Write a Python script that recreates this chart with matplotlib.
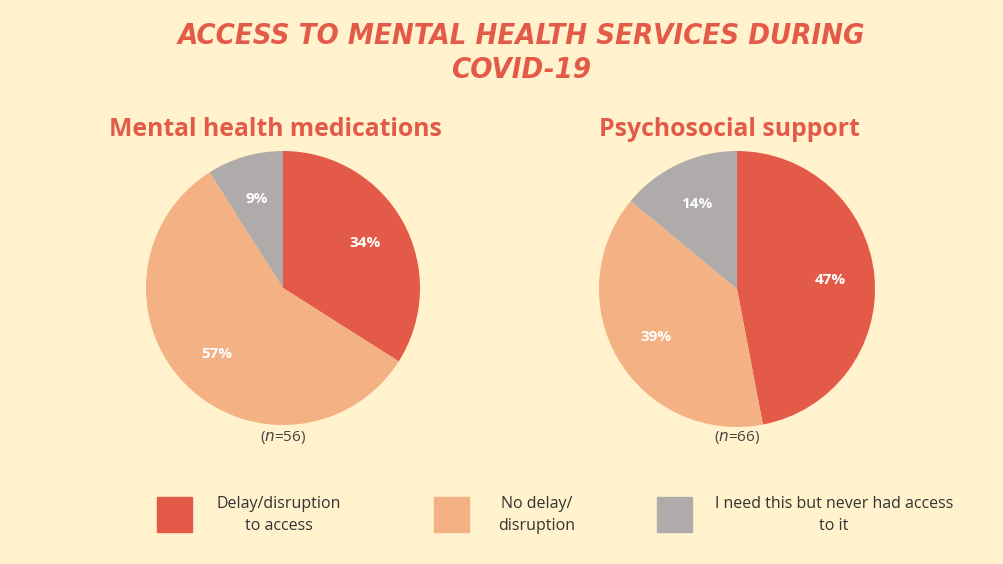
import matplotlib
matplotlib.use("Agg")
import matplotlib.pyplot as plt
from matplotlib.patches import Rectangle

# data
categories = ["Delay/disruption\nto access", "No delay/\ndisruption",
              "I need this but never had access\nto it"]
medications = [34, 57, 9]
psychosocial = [47, 39, 14]
panel_titles = ["Mental health medications", "Psychosocial support"]
sample_sizes = [56, 66]

colors = ["#E35B48", "#F4B183", "#AFABAB"]
bg = "#FFF2CC"
red = "#E35B48"

W, H = 1004, 564
fig = plt.figure(figsize=(W / 100, H / 100), dpi=100)
fig.patch.set_facecolor(bg)


def px_axes(cx, cy, r):
    # axes placed by pixel centre/radius (y from top)
    return fig.add_axes([(cx - r) / W, (H - cy - r) / H, 2 * r / W, 2 * r / H])


title_kw = dict(ha="center", va="center", color=red, fontsize=21,
                fontweight="bold", fontstyle="italic", family="DejaVu Sans",
                fontstretch="condensed")
fig.text(521 / W, 1 - 36 / H, "ACCESS TO MENTAL HEALTH SERVICES DURING", **title_kw)
fig.text(521 / W, 1 - 70 / H, "COVID-19", **title_kw)

panels = [(283, 288, 137, medications), (737, 289, 138, psychosocial)]
for (cx, cy, r, vals), title, n in zip(panels, panel_titles, sample_sizes):
    ax = px_axes(cx, cy, r)
    wedges, texts, autotexts = ax.pie(vals, colors=colors, startangle=90,
                                      counterclock=False, radius=1,
                                      autopct="%d%%", pctdistance=0.68,
                                      wedgeprops=dict(linewidth=0))
    for t in autotexts:
        t.set_color("white")
        t.set_fontweight("bold")
        t.set_fontsize(11)
        t.set_family("Open Sans")
    ax.set_xlim(-1, 1)
    ax.set_ylim(-1, 1)
    ax.set_aspect("equal")
    ax.axis("off")
    fig.text((cx - 8) / W, 1 - 129 / H, title, ha="center", va="center",
             color=red, fontsize=17.8, fontweight="bold", family="Open Sans")
    fig.text(cx / W, 1 - 437 / H, "($\\it{n}$=%d)" % n, ha="center",
             va="center", color="#444444", fontsize=11, family="Open Sans")

# legend
leg_x = [157, 434, 657]
leg_text_x = [279, 537, 834]
for c, lab, x, tx in zip(colors, categories, leg_x, leg_text_x):
    fig.patches.append(Rectangle((x / W, 1 - 532 / H), 35 / W, 35 / H,
                                 transform=fig.transFigure, color=c))
    fig.text(tx / W, 1 - 515 / H, lab, ha="center", va="center",
             color="#333333", fontsize=11.5, family="Open Sans",
             linespacing=1.5)

plt.savefig("out.png", dpi=100, facecolor=bg)
